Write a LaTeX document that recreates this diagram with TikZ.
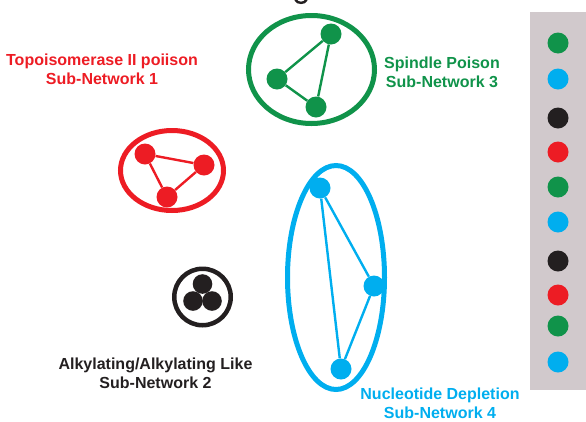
\documentclass[tikz,border=0pt]{standalone}
\usepackage{fontspec}
\setmainfont{Liberation Sans}
\usetikzlibrary{shapes.geometric}
\definecolor{netgreen}{HTML}{10934A}
\definecolor{netred}{HTML}{ED1C24}
\definecolor{netblue}{HTML}{00AEEF}
\definecolor{netblack}{HTML}{231F20}
\definecolor{stripgray}{HTML}{D1C9CC}
\begin{document}
\begin{tikzpicture}[x=1pt,y=-1pt,
  dot/.style={circle,fill=#1,draw=none,inner sep=0pt,minimum size=21pt},
  ring/.style={ellipse,draw=#1,line width=5pt,inner sep=0pt},
  link/.style={draw=#1,line width=2.4pt},
  label/.style={text=#1,font=\bfseries\fontsize{16}{19}\selectfont,align=center,inner sep=0pt}]
\useasboundingbox (0,0) rectangle (586,421);

% stroke left at the top edge
\draw[netblack,line width=2.4pt,line cap=round] (295.5,0) .. controls (297.5,3.8) and (304.5,3.8) .. (306.5,0);

% Sub-network 3 (green)
\node[ring=netgreen,minimum width=126pt,minimum height=108pt] (gring) at (311.5,69.5) {};
\node[dot=netgreen] (g1) at (331,34) {};
\node[dot=netgreen] (g2) at (277,79) {};
\node[dot=netgreen] (g3) at (316,107) {};
\draw[link=netgreen] (g1) -- (g2) (g2) -- (g3) (g1) -- (g3);
\node[label=netgreen] (glabel) at (442,72) {Spindle Poison\\Sub-Network 3};

% Sub-network 1 (red)
\node[ring=netred,minimum width=103pt,minimum height=80pt] (rring) at (172,170.5) {};
\node[dot=netred] (r1) at (145,154) {};
\node[dot=netred] (r2) at (204,165) {};
\node[dot=netred] (r3) at (167,197) {};
\draw[link=netred] (r1) -- (r2) (r2) -- (r3) (r1) -- (r3);
\node[label=netred] (rlabel) at (102,69) {Topoisomerase II poiison\\Sub-Network 1};

% Sub-network 4 (blue)
\node[ring=netblue,minimum width=97pt,minimum height=224pt] (bring) at (336,277.5) {};
\node[dot=netblue] (b1) at (320,188) {};
\node[dot=netblue] (b2) at (374,286) {};
\node[dot=netblue] (b3) at (341,369) {};
\draw[link=netblue] (b1) -- (b2) (b2) -- (b3) (b1) -- (b3);
\node[label=netblue] (blabel) at (440,403) {Nucleotide Depletion\\Sub-Network 4};

% Sub-network 2 (black)
\node[circle,draw=netblack,line width=4.5pt,inner sep=0pt,minimum size=56.5pt] (kring) at (202.5,297) {};
\node[dot=netblack,minimum size=19.6pt] (k1) at (202.5,284) {};
\node[dot=netblack,minimum size=19.6pt] (k2) at (193,301) {};
\node[dot=netblack,minimum size=19.6pt] (k3) at (212,301) {};
\node[label=netblack] (klabel) at (155.5,373) {Alkylating/Alkylating Like\\Sub-Network 2};

% legend strip
\fill[stripgray] (530,12) rectangle (586,390);
\node[dot=netgreen] (s1) at (558,43) {};
\node[dot=netblue] (s2) at (558,79) {};
\node[dot=netblack] (s3) at (558,118) {};
\node[dot=netred] (s4) at (558,152) {};
\node[dot=netgreen] (s5) at (558,187) {};
\node[dot=netblue] (s6) at (558,222) {};
\node[dot=netblack] (s7) at (558,261) {};
\node[dot=netred] (s8) at (558,295) {};
\node[dot=netgreen] (s9) at (558,326) {};
\node[dot=netblue] (s10) at (558,362) {};
\end{tikzpicture}
\end{document}
